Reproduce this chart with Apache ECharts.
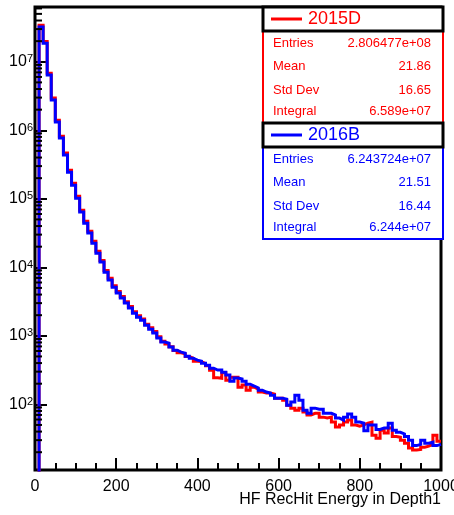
<!DOCTYPE html>
<html>
<head>
<meta charset="utf-8">
<script src="https://cdn.jsdelivr.net/npm/echarts@6/dist/echarts.min.js"></script>
<style>html,body{margin:0;padding:0;background:#fff;}#c{width:454px;height:515px;}</style>
</head>
<body>
<div id="c"></div>
<script>
// ---- data ----
const binWidth = 10;           // GeV per bin, 100 bins 0..1000
const xTitle = 'HF RecHit Energy in Depth1';
const xTicks = [0, 200, 400, 600, 800, 1000];
const yTickExponents = [2, 3, 4, 5, 6, 7];

const name2015D = '2015D';
const name2016B = '2016B';
const statLabels = ['Entries', 'Mean', 'Std Dev', 'Integral'];
const stats2015D = ['2.806477e+08', '21.86', '16.65', '6.589e+07'];
const stats2016B = ['6.243724e+07', '21.51', '16.44', '6.244e+07'];

// bin contents (bin 0 is empty -> below axis floor)
const red2015D = [1, 3.40e7, 1.98e7, 6.8e6, 2.95e6, 1.40e6, 8.2e5, 4.65e5, 2.6e5, 1.68e5,
  1.09e5, 6.8e4, 4.7e4, 3.35e4, 2.4e4, 1.71e4, 1.26e4, 9.0e3, 6.9e3, 5.4e3,
  4.45e3, 3.75e3, 3.15e3, 2.68e3, 2.25e3, 1.96e3, 1.76e3, 1.47e3, 1.31e3, 1.16e3,
  970, 830, 760, 690, 610, 565, 545, 500, 470, 425,
  420, 395, 365, 315, 245, 240, 290, 225, 249, 249,
  178, 191, 161, 178, 167, 151, 146, 146, 141, 123,
  123, 115, 97, 88, 82, 88, 77, 70, 74, 74,
  65, 63, 65, 55, 46.5, 50, 55, 59, 50, 48,
  50, 53, 55, 35.5, 32, 42, 38, 45, 34, 33,
  30, 27, 23, 21.5, 22, 23.7, 24.5, 26, 35.5, 29];
const blue2016B = [1, 3.21e7, 1.87e7, 6.4e6, 2.76e6, 1.32e6, 7.7e5, 4.35e5, 2.45e5, 1.58e5,
  1.02e5, 6.4e4, 4.4e4, 3.16e4, 2.25e4, 1.61e4, 1.19e4, 8.5e3, 6.5e3, 5.1e3,
  4.2e3, 3.55e3, 3.0e3, 2.54e3, 2.14e3, 1.87e3, 1.69e3, 1.43e3, 1.25e3, 1.10e3,
  927, 810, 782, 684, 618, 578, 559, 505, 472, 442,
  427, 399, 373, 337, 316, 316, 295, 267, 218, 242,
  234, 218, 197, 185, 173, 161, 151, 146, 136, 123,
  123, 119, 97, 108, 136, 115, 82, 74, 88, 85,
  85, 74, 74, 70, 63, 59, 65, 72, 65, 55,
  53, 41, 50, 50, 43, 45, 45, 53, 42, 39,
  37, 34, 30, 25, 26, 30, 27, 28, 25, 26];

// ---- build ----
const FONT = "'Liberation Sans', Arial, Helvetica, sans-serif";
function stepData(arr) {
  const d = arr.map((v, i) => [i * binWidth, v]);
  d.push([arr.length * binWidth, arr[arr.length - 1]]);
  return d;
}
const yMin = 11, yMax = 6.3e7;
const minorY = [];
for (let e = 1; e <= 7; e++) for (let m = 2; m <= 9; m++) {
  const v = m * Math.pow(10, e);
  if (v > yMin && v < yMax) minorY.push([0, v]);
}

const L = 263, W = 180;
function statBox(top, color, name, vals) {
  const els = [];
  els.push({ type: 'rect', z: 100, shape: { x: L, y: top + 24, width: W, height: 92 },
    style: { fill: '#fff', stroke: color, lineWidth: 2 } });
  els.push({ type: 'rect', z: 101, shape: { x: L, y: top, width: W, height: 24 },
    style: { fill: '#fff', stroke: '#000', lineWidth: 3 } });
  els.push({ type: 'line', z: 102, shape: { x1: L + 8, y1: top + 12, x2: L + 39, y2: top + 12 },
    style: { stroke: color, lineWidth: 3 } });
  els.push({ type: 'text', z: 102, style: { x: L + 45, y: top + 12.5, text: name, fill: color,
    font: '18px ' + FONT, verticalAlign: 'middle', align: 'left' } });
  const rowY = [36.3, 59.7, 83, 104];
  statLabels.forEach((lab, i) => {
    els.push({ type: 'text', z: 102, style: { x: L + 10, y: top + rowY[i], text: lab, fill: color,
      font: '13px ' + FONT, verticalAlign: 'middle', align: 'left' } });
    els.push({ type: 'text', z: 102, style: { x: L + 168, y: top + rowY[i], text: vals[i], fill: color,
      font: '13px ' + FONT, verticalAlign: 'middle', align: 'right' } });
  });
  return els;
}

const chart = echarts.init(document.getElementById('c'), null, { renderer: 'canvas' });
chart.setOption({
  animation: false,
  backgroundColor: '#fff',
  grid: { left: 35, right: 13, top: 7, bottom: 45, containLabel: false, outerBoundsMode: 'none',
    show: true, borderColor: '#000', borderWidth: 3, backgroundColor: 'transparent' },
  xAxis: {
    type: 'value', min: xTicks[0], max: xTicks[xTicks.length - 1], interval: 200,
    axisLine: { show: false },
    axisTick: { show: true, inside: true, length: 12, lineStyle: { color: '#000', width: 2 } },
    minorTick: { show: true, splitNumber: 4, length: 7, lineStyle: { color: '#000', width: 2 } },
    splitLine: { show: false },
    axisLabel: { color: '#000', fontSize: 16, fontFamily: FONT, margin: 9, formatter: v => String(v) }
  },
  yAxis: {
    type: 'log', logBase: 10, min: yMin, max: yMax,
    axisLine: { show: false },
    axisTick: { show: true, inside: true, length: 12, lineStyle: { color: '#000', width: 2 } },
    splitLine: { show: false },
    axisLabel: {
      showMinLabel: false, showMaxLabel: false, margin: 2,
      formatter: v => {
        const e = Math.round(Math.log10(v));
        if (yTickExponents.indexOf(e) < 0) return '';
        return '{b|10}{s|' + e + '}';
      },
      rich: {
        b: { fontSize: 16, fontFamily: FONT, color: '#000', lineHeight: 16, verticalAlign: 'bottom', padding: [6, 0, 0, 0] },
        s: { fontSize: 11, fontFamily: FONT, color: '#000', lineHeight: 11, verticalAlign: 'top' }
      }
    }
  },
  series: [
    { name: name2015D, type: 'line', step: 'end', data: stepData(red2015D), showSymbol: false, clip: true,
      lineStyle: { color: '#ff0000', width: 3, join: 'miter', cap: 'butt' }, itemStyle: { color: '#ff0000' }, z: 3 },
    { name: name2016B, type: 'line', step: 'end', data: stepData(blue2016B), showSymbol: false, clip: true,
      lineStyle: { color: '#0000ff', width: 3, join: 'miter', cap: 'butt' }, itemStyle: { color: '#0000ff' }, z: 4 },
    { type: 'custom', data: minorY, z: 5, clip: true, silent: true,
      renderItem: (params, api) => {
        const p = api.coord([0, api.value(1)]);
        return { type: 'line', shape: { x1: p[0], y1: p[1], x2: p[0] + 7, y2: p[1] },
          style: { stroke: '#000', lineWidth: 2 } };
      } }
  ],
  graphic: [].concat(
    statBox(7, '#ff0000', name2015D, stats2015D),
    statBox(123, '#0000ff', name2016B, stats2016B),
    [{ type: 'text', z: 102, style: { x: 441, y: 500, text: xTitle, fill: '#000', font: '16px ' + FONT, align: 'right', verticalAlign: 'middle' } }]
  )
});
</script>
</body>
</html>
